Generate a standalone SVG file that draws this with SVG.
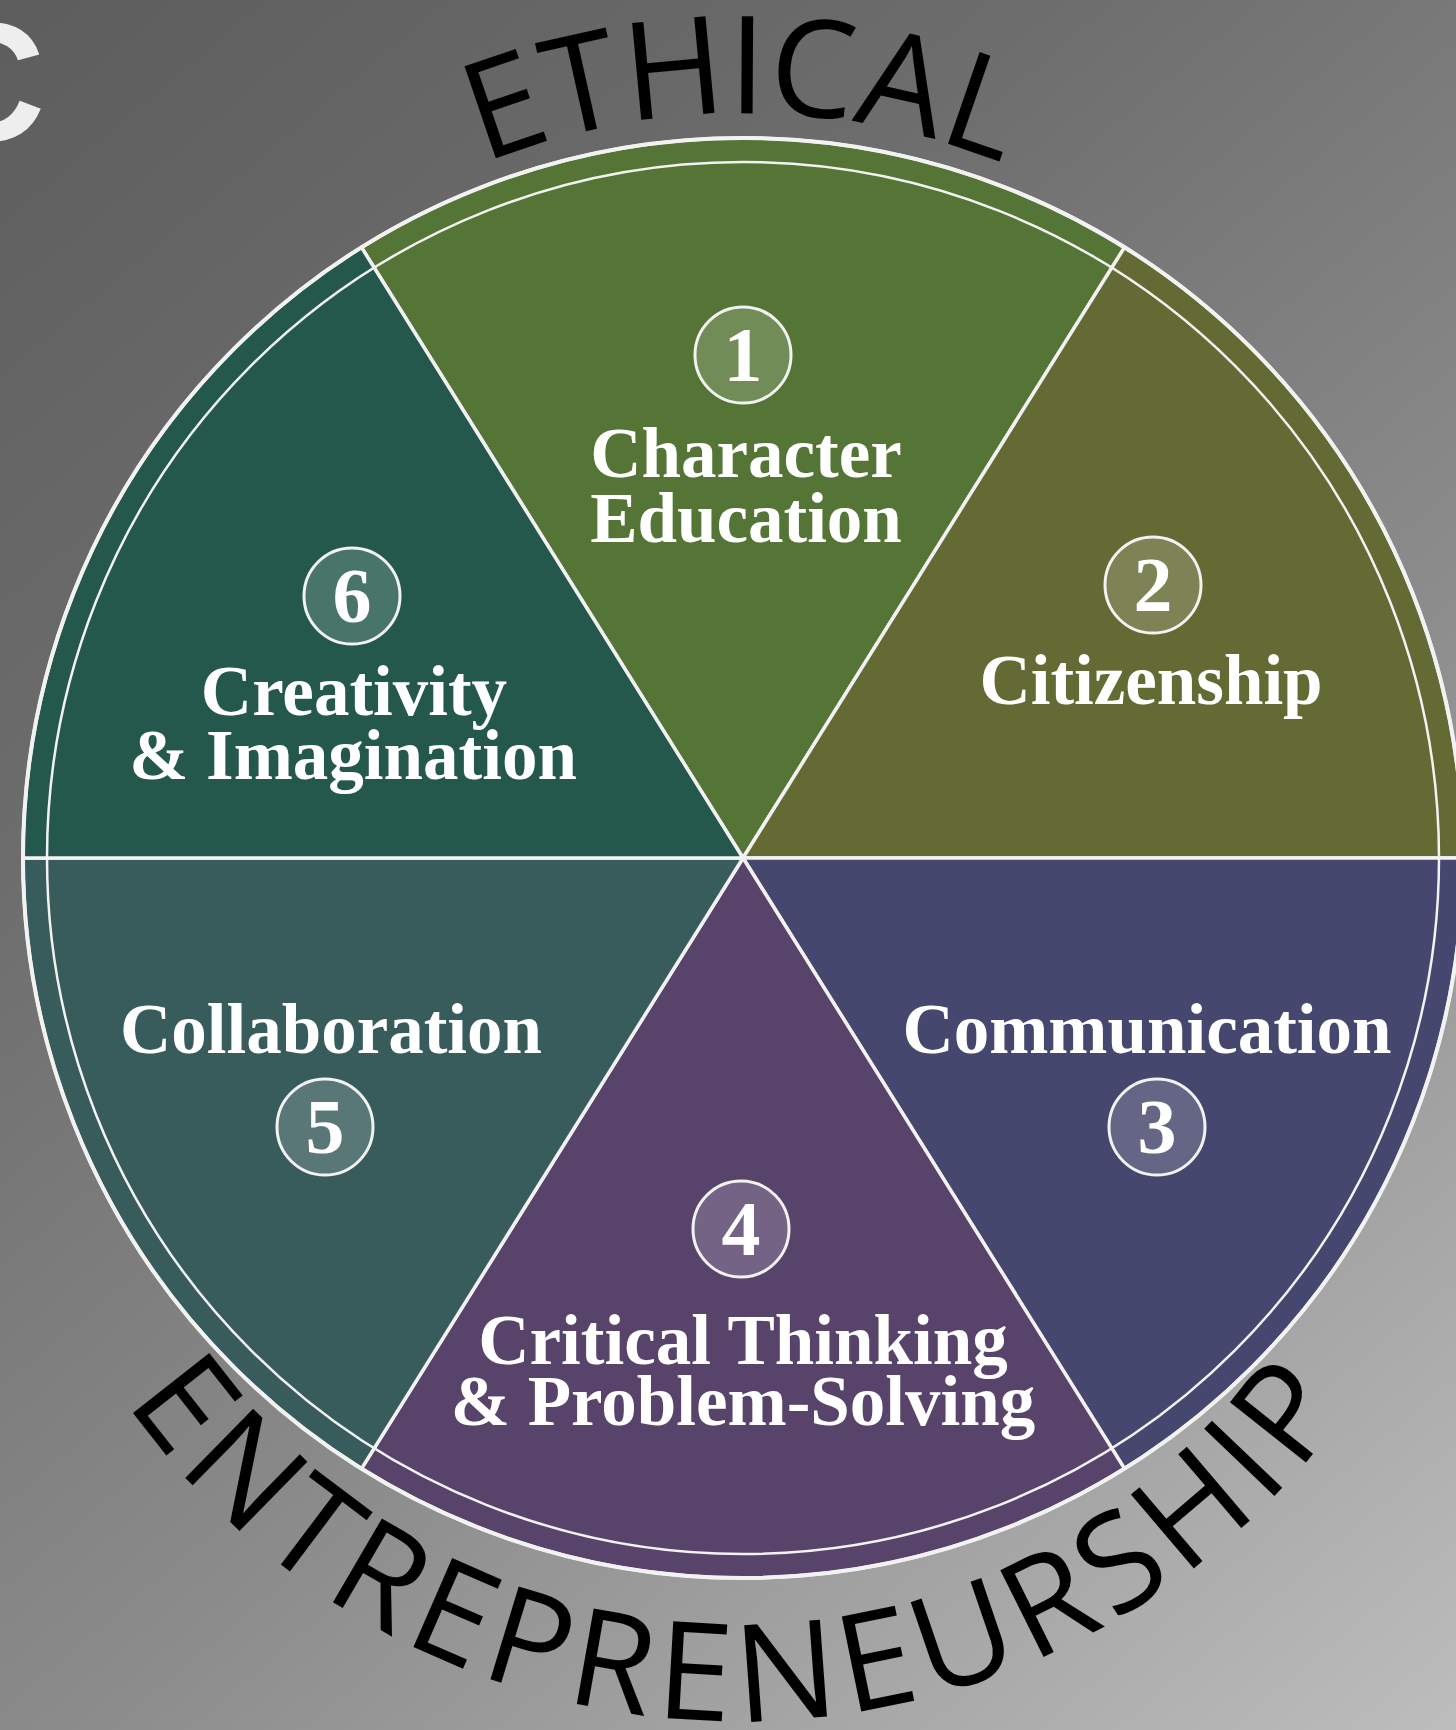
<svg xmlns="http://www.w3.org/2000/svg" width="1456" height="1730" viewBox="0 0 1456 1730">
  <defs>
    <linearGradient id="bg" gradientUnits="userSpaceOnUse" x1="0" y1="0" x2="1456" y2="1730">
      <stop offset="0" stop-color="#5d5d5d"/>
      <stop offset="0.3" stop-color="#6d6d6d"/>
      <stop offset="0.6" stop-color="#8b8b8b"/>
      <stop offset="1" stop-color="#bdbdbd"/>
    </linearGradient>
    <path id="arcTop" d="M49,807 A694,694 0 0,1 1437,807"/>
    <path id="arcBottom" d="M-10,972 A749,749 0 0,0 1488,972"/>
  </defs>
  <style>
    .sector { stroke: #f2f2f2; stroke-width: 3.5; stroke-linejoin: round; }
    .lbl { font-family: "Liberation Serif", "Times New Roman", serif; font-weight: bold; font-size: 71px; fill: #ffffff; text-anchor: middle; }
    .num { font-family: "Liberation Serif", "Times New Roman", serif; font-weight: bold; font-size: 78px; fill: #ffffff; text-anchor: middle; }
    .badge { fill: #ffffff; fill-opacity: 0.17; stroke: #f2f2f2; stroke-width: 3; }
    .arc { font-family: "Open Sans", "DejaVu Sans", sans-serif; font-size: 136px; fill: #000000; }
  </style>

  <rect x="0" y="0" width="1456" height="1730" fill="url(#bg)"/>

  <text x="-76" y="140" font-family="Liberation Sans, Arial, sans-serif" font-weight="bold" font-size="168" fill="#eeeeee">C</text>

  <g id="wheel">
    <g id="node-1">
      <path class="sector" fill="#557536" d="M743,858 L361.5,247.4 A720,720 0 0,1 1124.5,247.4 Z"/>
    </g>
    <g id="node-2">
      <path class="sector" fill="#636a33" d="M743,858 L1124.5,247.4 A720,720 0 0,1 1463,858 Z"/>
    </g>
    <g id="node-3">
      <path class="sector" fill="#46476e" d="M743,858 L1463,858 A720,720 0 0,1 1124.5,1468.6 Z"/>
    </g>
    <g id="node-4">
      <path class="sector" fill="#58446b" d="M743,858 L1124.5,1468.6 A720,720 0 0,1 361.5,1468.6 Z"/>
    </g>
    <g id="node-5">
      <path class="sector" fill="#375c5b" d="M743,858 L361.5,1468.6 A720,720 0 0,1 23,858 Z"/>
    </g>
    <g id="node-6">
      <path class="sector" fill="#24584c" d="M743,858 L23,858 A720,720 0 0,1 361.5,247.4 Z"/>
    </g>
    <circle cx="743" cy="858" r="720" fill="none" stroke="#f2f2f2" stroke-width="4"/>
    <circle cx="743" cy="858" r="696" fill="none" stroke="#f2f2f2" stroke-width="2.5"/>
  </g>

  <g id="labels">
    <g id="label-1">
      <circle class="badge" cx="743" cy="355" r="48"/>
      <text class="num" x="743" y="381">1</text>
      <text class="lbl" x="746" y="477">Character</text>
      <text class="lbl" x="746" y="542">Education</text>
    </g>
    <g id="label-2">
      <circle class="badge" cx="1153" cy="585" r="48"/>
      <text class="num" x="1153" y="611">2</text>
      <text class="lbl" x="1151" y="704">Citizenship</text>
    </g>
    <g id="label-3">
      <text class="lbl" x="1147" y="1053">Communication</text>
      <circle class="badge" cx="1157" cy="1127" r="48"/>
      <text class="num" x="1157" y="1153">3</text>
    </g>
    <g id="label-4">
      <circle class="badge" cx="741" cy="1229" r="48"/>
      <text class="num" x="741" y="1255">4</text>
      <text class="lbl" x="743" y="1364">Critical Thinking</text>
      <text class="lbl" x="743" y="1425">&amp; Problem-Solving</text>
    </g>
    <g id="label-5">
      <text class="lbl" x="331" y="1053">Collaboration</text>
      <circle class="badge" cx="325" cy="1127" r="48"/>
      <text class="num" x="325" y="1153">5</text>
    </g>
    <g id="label-6">
      <circle class="badge" cx="352" cy="596" r="48"/>
      <text class="num" x="352" y="622">6</text>
      <text class="lbl" x="354" y="715">Creativity</text>
      <text class="lbl" x="353" y="779">&amp; Imagination</text>
    </g>
  </g>

  <g id="arc-titles">
    <text class="arc"><textPath href="#arcTop" startOffset="50%" text-anchor="middle">ETHICAL</textPath></text>
    <text class="arc" letter-spacing="8"><textPath href="#arcBottom" startOffset="50%" text-anchor="middle">ENTREPRENEURSHIP</textPath></text>
  </g>
</svg>
